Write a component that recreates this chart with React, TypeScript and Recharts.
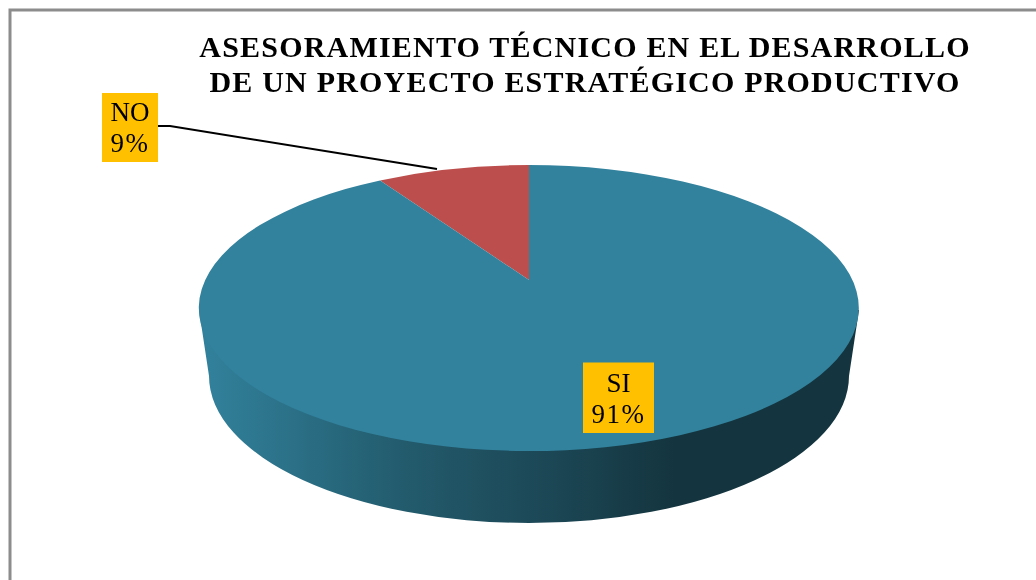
import { PieChart, Pie, Cell } from 'recharts';

const categories = ['NO', 'SI'];
const shares = [9, 91];
const sliceColors = ['#BC4F4D', '#32829D'];
const titleLines = [
  'ASESORAMIENTO TÉCNICO EN EL DESARROLLO',
  'DE UN PROYECTO ESTRATÉGICO PRODUCTIVO',
];

const data = categories.map((name, i) => ({ name, value: shares[i] }));

// the pie is a circle seen in perspective, so its hub sits above the middle of the ellipse
const RX = 330;
const RY = 143;
const TILT = 0.196;
const WIDE = 324;
const TALL = 137.5;

function project(cx: number, cy: number, angle: number) {
  const x = Math.cos((angle * Math.PI) / 180);
  const y = Math.sin((angle * Math.PI) / 180);
  const d = 1 + TILT * y;
  return { x: cx + (WIDE * x) / d, y: cy - (TALL * y) / d };
}

function TiltedSector(props: any) {
  const { cx, cy, startAngle, endAngle, fill } = props;
  const a = project(cx, cy, startAngle);
  const b = project(cx, cy, endAngle);
  const large = Math.abs(endAngle - startAngle) > 180 ? 1 : 0;
  const d = `M${cx},${cy} L${a.x},${a.y} A${RX},${RY} 0 ${large} 0 ${b.x},${b.y} Z`;
  return <path d={d} fill={fill} stroke="none" />;
}

const labelBoxes: Record<string, { x: number; y: number; w: number; h: number; base: number }> = {
  NO: { x: 102, y: 93, w: 56, h: 69, base: 121 },
  SI: { x: 583, y: 362.5, w: 71, h: 70.5, base: 392 },
};

function renderLabel(props: any) {
  const { name, percent } = props;
  const box = labelBoxes[name];
  const mid = box.x + box.w / 2;
  return (
    <g key={name}>
      {name === 'NO' && (
        <polyline points="158,126 170,126 437,169" fill="none" stroke="#000" strokeWidth={2} />
      )}
      <rect x={box.x} y={box.y} width={box.w} height={box.h} fill="#FFC000" />
      <text x={mid} y={box.base} textAnchor="middle" fontSize={27} fontFamily="Liberation Serif" fill="#000">
        {name}
      </text>
      <text
        x={mid}
        y={box.base + 31}
        textAnchor="middle"
        fontSize={27}
        letterSpacing={1.5}
        fontFamily="Liberation Serif"
        fill="#000"
      >
        {`${Math.round(percent * 100)}%`}
      </text>
    </g>
  );
}

export default function App() {
  return (
    <div style={{ position: 'absolute', left: 0, top: 0, background: '#fff', filter: 'blur(0.4px)' }}>
      <PieChart width={1036} height={580} margin={{ top: 0, right: 0, bottom: 0, left: 0 }}>
        <defs>
          <linearGradient id="wall" x1="199" x2="859" y1="0" y2="0" gradientUnits="userSpaceOnUse">
            <stop offset="0" stopColor="#32829D" />
            <stop offset="0.3" stopColor="#235C6E" />
            <stop offset="0.55" stopColor="#1B4553" />
            <stop offset="0.72" stopColor="#14353F" />
            <stop offset="1" stopColor="#14353F" />
          </linearGradient>
        </defs>
        <path d="M10,582 V10 H1038" fill="none" stroke="#8C8C8C" strokeWidth={3} />
        <path
          d="M199,310 L209,376 A320,147 0 0 0 849,376 L859,310 Z"
          fill="url(#wall)"
        />
        {titleLines.map((line, i) => (
          <text
            key={line}
            x={585}
            y={57 + i * 35}
            textAnchor="middle"
            fontSize={30}
            letterSpacing={1.2}
            fontWeight="bold"
            fontFamily="Liberation Serif"
            fill="#000"
          >
            {line}
          </text>
        ))}
        <Pie
          data={data}
          dataKey="value"
          nameKey="name"
          cx={529}
          cy={280}
          outerRadius={143}
          startAngle={90}
          endAngle={450}
          stroke="none"
          shape={TiltedSector}
          label={renderLabel}
          labelLine={false}
          isAnimationActive={false}
        >
          {data.map((entry, index) => (
            <Cell key={entry.name} fill={sliceColors[index]} />
          ))}
        </Pie>
      </PieChart>
    </div>
  );
}
